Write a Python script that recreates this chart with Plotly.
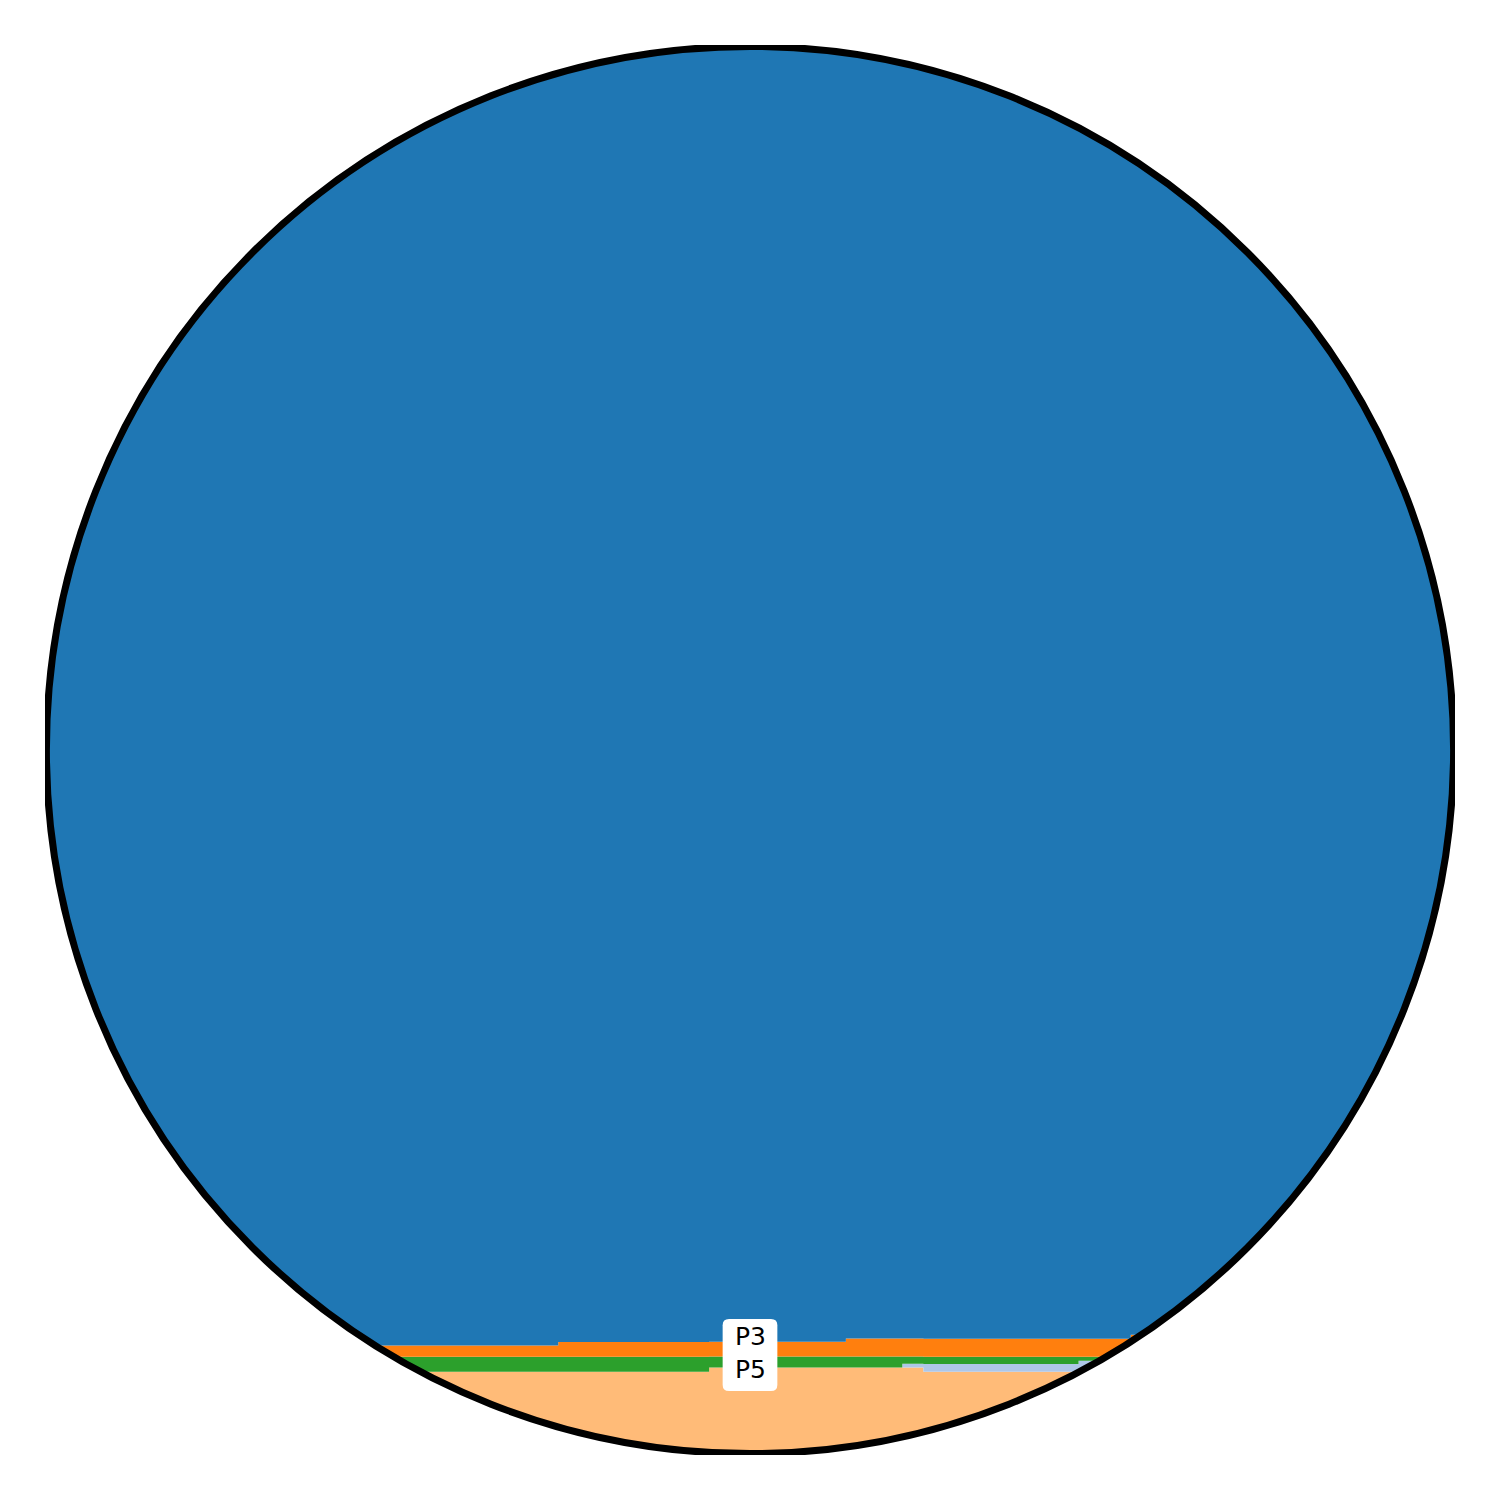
import numpy as np
import plotly.graph_objects as go

# Step positions (x, percent of range) and stacked layer values (percent)
x_steps = [0, 36.4, 47.1, 56.8, 60.8, 62.3, 73.3, 77.0, 100]
p4 = [5.9, 5.9, 6.2, 6.2, 6.2, 5.9, 5.9, 5.9]
p2 = [0.0, 0.0, 0.0, 0.0, 0.28, 0.56, 0.78, 0.78]
p5 = [1.06, 1.06, 0.78, 0.78, 0.5, 0.5, 0.28, 0.28]
p3 = [0.8, 1.06, 1.06, 1.28, 1.28, 1.28, 1.28, 1.56]
p1 = [100 - a - b - c - d for a, b, c, d in zip(p4, p2, p5, p3)]

layers = [
    ("P4", p4, "#ffbb78"),
    ("P2", p2, "#aec7e8"),
    ("P5", p5, "#2ca02c"),
    ("P3", p3, "#ff7f0e"),
    ("P1", p1, "#1f77b4"),
]
labels = ["P3", "P5"]

fig = go.Figure()
for name, vals, col in layers:
    fig.add_trace(go.Scatter(
        x=x_steps, y=list(vals) + [vals[-1]], name=name,
        mode="lines", line=dict(width=0, shape="hv", color=col),
        fillcolor=col, stackgroup="one", hoverinfo="skip",
    ))

# circular clip mask
cx, cy, r = 50, 50, 49.9
t = np.linspace(0, 2 * np.pi, 721)
circ = " ".join(f"L{cx + r*np.cos(a):.4f},{cy + r*np.sin(a):.4f}" for a in t)
circ = "M" + circ[1:] + " Z"
mask = "M-20,-20 L120,-20 L120,120 L-20,120 Z " + circ
fig.add_shape(type="path", path=mask, xref="x", yref="y", fillcolor="white",
              fillrule="evenodd", line=dict(width=0), layer="above")
fig.add_shape(type="circle", xref="x", yref="y", x0=cx - r, x1=cx + r,
              y0=cy - r, y1=cy + r, line=dict(color="black", width=7), layer="above")

# rounded label box
bx0, bx1, by0, by1, rr = 48.06, 51.94, 4.54, 9.65, 0.45
box = (f"M{bx0+rr},{by0} L{bx1-rr},{by0} Q{bx1},{by0} {bx1},{by0+rr} "
       f"L{bx1},{by1-rr} Q{bx1},{by1} {bx1-rr},{by1} L{bx0+rr},{by1} "
       f"Q{bx0},{by1} {bx0},{by1-rr} L{bx0},{by0+rr} Q{bx0},{by0} {bx0+rr},{by0} Z")
fig.add_shape(type="path", path=box, xref="x", yref="y", fillcolor="white",
              line=dict(width=0), layer="above")
fig.add_annotation(x=50, y=7.2, xref="x", yref="y", text="<br>".join(labels),
                   showarrow=False, font=dict(family="DejaVu Sans", size=25, color="black"),
                   align="center")

fig.update_layout(
    width=1500, height=1500, margin=dict(l=45, r=45, t=45, b=45),
    paper_bgcolor="white", plot_bgcolor="white", showlegend=False,
    xaxis=dict(range=[0, 100], visible=False, fixedrange=True),
    yaxis=dict(range=[0, 100], visible=False, fixedrange=True),
)
fig.write_html("out.html")
